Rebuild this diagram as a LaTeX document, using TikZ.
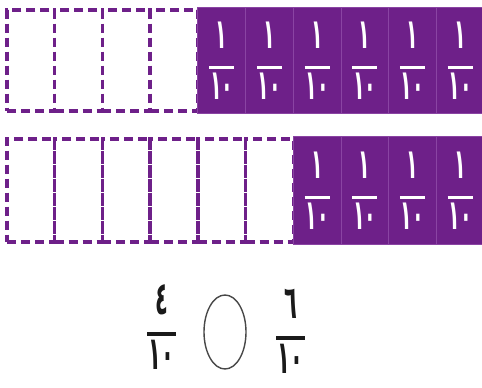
\documentclass[tikz,border=0pt]{standalone}
\usepackage{fontspec}
\usepackage{graphicx}
\usetikzlibrary{positioning,shapes.geometric}
\newfontfamily\arabicfont[Script=Arabic]{DejaVu Sans}
\definecolor{Plum}{HTML}{6E2089}
\definecolor{PlumEdge}{HTML}{8A44A3}
\definecolor{Ink}{HTML}{1A1A1A}
\newcommand{\tall}[1]{\scalebox{1}[2.2]{#1}}
\newcommand{\arfrac}[4]{%
  \tall{#1}\\[1pt]\rule{#3}{#4}\\[3pt]\tall{#2}}
\newcommand{\stripe}[4]{%
  \foreach \i in {1,...,10}{
    \ifnum\i>#3
      \node[tenthcell,minimum height=#4+5] (#1\i) at ({7+47.7*(\i-0.5)},#2) {\arfrac{١}{١٠}{25pt}{2.8pt}};
    \else
      \node[emptycell,minimum height=#4] (#1\i) at ({7+47.7*(\i-0.5)},#2) {};
    \fi
  }
}

\begin{document}
\begin{tikzpicture}[x=1pt,y=-1pt,
    emptycell/.style={draw=Plum,line width=3.4pt,dash pattern=on 9pt off 5pt,
      minimum width=47.7pt,inner sep=0pt,outer sep=0pt},
    tenthcell/.style={fill=Plum,draw=PlumEdge,line width=0.8pt,
      minimum width=47.7pt,inner sep=0pt,outer sep=0pt,text=white,
      align=center,font=\arabicfont\bfseries\fontsize{19}{19}\selectfont},
    bigfrac/.style={text=Ink,align=center,inner sep=0pt,
      font=\arabicfont\bfseries\fontsize{21}{21}\selectfont}]
      \useasboundingbox (0,0) rectangle (482,388);
      \fill[white] (0,0) rectangle (482,388);

      % top strip: six tenths shaded
      \stripe{t}{60.5}{4}{101}
      % bottom strip: four tenths shaded
      \stripe{b}{190.5}{6}{103}

      \node[bigfrac] (left) at (161.5,327) {\arfrac{٤}{١٠}{29pt}{4pt}};
      \node[draw=Ink!80,line width=1.4pt,ellipse,minimum width=42pt,minimum height=74pt]
        (cmp) at (225,332) {};
      \node[bigfrac] (right) at (290.5,331) {\arfrac{٦}{١٠}{29pt}{4pt}};
    \end{tikzpicture}
\end{document}
